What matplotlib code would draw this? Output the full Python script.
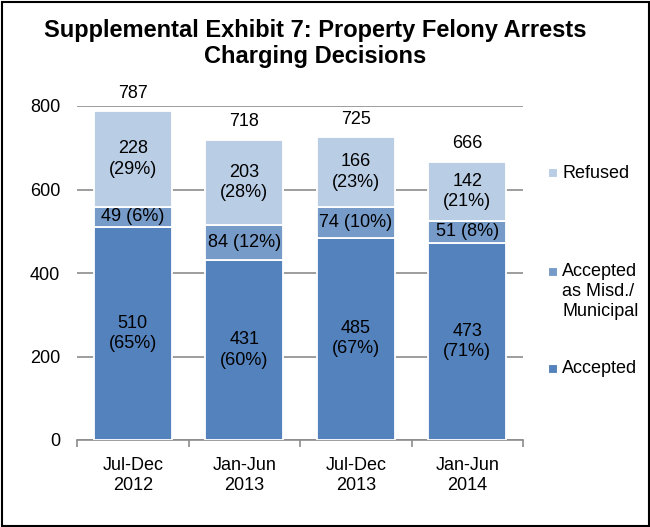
import matplotlib.pyplot as plt
from matplotlib.patches import Rectangle
import numpy as np

plt.rcParams['font.family'] = ['Liberation Sans', 'DejaVu Sans']

periods = ['Jul-Dec\n2012', 'Jan-Jun\n2013', 'Jul-Dec\n2013', 'Jan-Jun\n2014']
accepted = [510, 431, 485, 473]
misd = [49, 84, 74, 51]
refused = [228, 203, 166, 142]
acc_pct = [65, 60, 67, 71]
misd_pct = [6, 12, 10, 8]
ref_pct = [29, 28, 23, 21]
series_names = ['Refused', 'Accepted\nas Misd./\nMunicipal', 'Accepted']

c_acc = '#5482BD'
c_misd = '#769BC9'
c_ref = '#B9CDE5'

W, H = 650, 527
fig = plt.figure(figsize=(W / 100, H / 100), dpi=100)
ax = fig.add_axes([77 / W, (H - 440) / H, 446 / W, 334 / H])

x = np.arange(len(periods))
w = 0.7
acc = np.array(accepted)
mis = np.array(misd)
ref = np.array(refused)

ax.bar(x, acc, w, color=c_acc, edgecolor='white', linewidth=1.3, zorder=3)
ax.bar(x, mis, w, bottom=acc, color=c_misd, edgecolor='white', linewidth=1.3, zorder=3)
ax.bar(x, ref, w, bottom=acc + mis, color=c_ref, edgecolor='white', linewidth=1.3, zorder=3)

fs = 13
for i in range(len(x)):
    ax.text(x[i], acc[i] / 2, f'{acc[i]}\n({acc_pct[i]}%)', ha='center', va='center',
            fontsize=fs, linespacing=1.25, zorder=4)
    ax.text(x[i], acc[i] + mis[i] / 2, f'{mis[i]} ({misd_pct[i]}%)', ha='center', va='center',
            fontsize=fs, zorder=4)
    ax.text(x[i], acc[i] + mis[i] + ref[i] / 2, f'{ref[i]}\n({ref_pct[i]}%)', ha='center',
            va='center', fontsize=fs, linespacing=1.25, zorder=4)
    tot = acc[i] + mis[i] + ref[i]
    ax.text(x[i], tot + 33, f'{tot}', ha='center', va='baseline', fontsize=fs, zorder=4)

ax.set_ylim(0, 800)
ax.set_xlim(-0.5, 3.5)
ax.set_yticks([0, 200, 400, 600, 800])
ax.yaxis.grid(True, color='#8C8C8C', linewidth=1.2, zorder=0)
ax.set_axisbelow(True)
for s in ['top', 'right', 'left']:
    ax.spines[s].set_visible(False)
ax.spines['bottom'].set_color('#8C8C8C')
ax.spines['bottom'].set_linewidth(1.2)
ax.tick_params(axis='y', length=0, labelsize=fs, pad=12)
ax.set_xticks(x)
ax.set_xticklabels(periods, fontsize=fs, linespacing=1.23)
ax.set_xticks([-0.5, 0.5, 1.5, 2.5, 3.5], minor=True)
ax.tick_params(axis='x', which='major', length=0, pad=12)
ax.tick_params(axis='x', which='minor', length=5, color='#8C8C8C', width=1.2)

# legend, drawn by hand so the swatch sits on the first text line
leg_colors = [c_ref, c_misd, c_acc]
leg_y = [172.5, 271, 368]
for name, col, yy in zip(series_names, leg_colors, leg_y):
    fig.patches.append(Rectangle((548 / W, (H - yy - 4.5) / H), 9 / W, 9 / H,
                                 transform=fig.transFigure, facecolor=col,
                                 edgecolor='white', linewidth=0.8))
    for k, line in enumerate(name.split('\n')):
        fig.text(562 / W, (H - yy - 5 - 20 * k) / H, line, fontsize=fs,
                 va='baseline', ha='left')

fig.text(315 / W, (H - 37) / H, 'Supplemental Exhibit 7: Property Felony Arrests',
         fontsize=17, fontweight='bold', ha='center', va='baseline')
fig.text(315 / W, (H - 63) / H, 'Charging Decisions',
         fontsize=17, fontweight='bold', ha='center', va='baseline')

fig.patches.append(Rectangle((1.5 / W, 1.5 / H), (W - 3) / W, (H - 3) / H,
                             transform=fig.transFigure, fill=False,
                             edgecolor='black', linewidth=1.5))

fig.savefig('out.png', dpi=100)
